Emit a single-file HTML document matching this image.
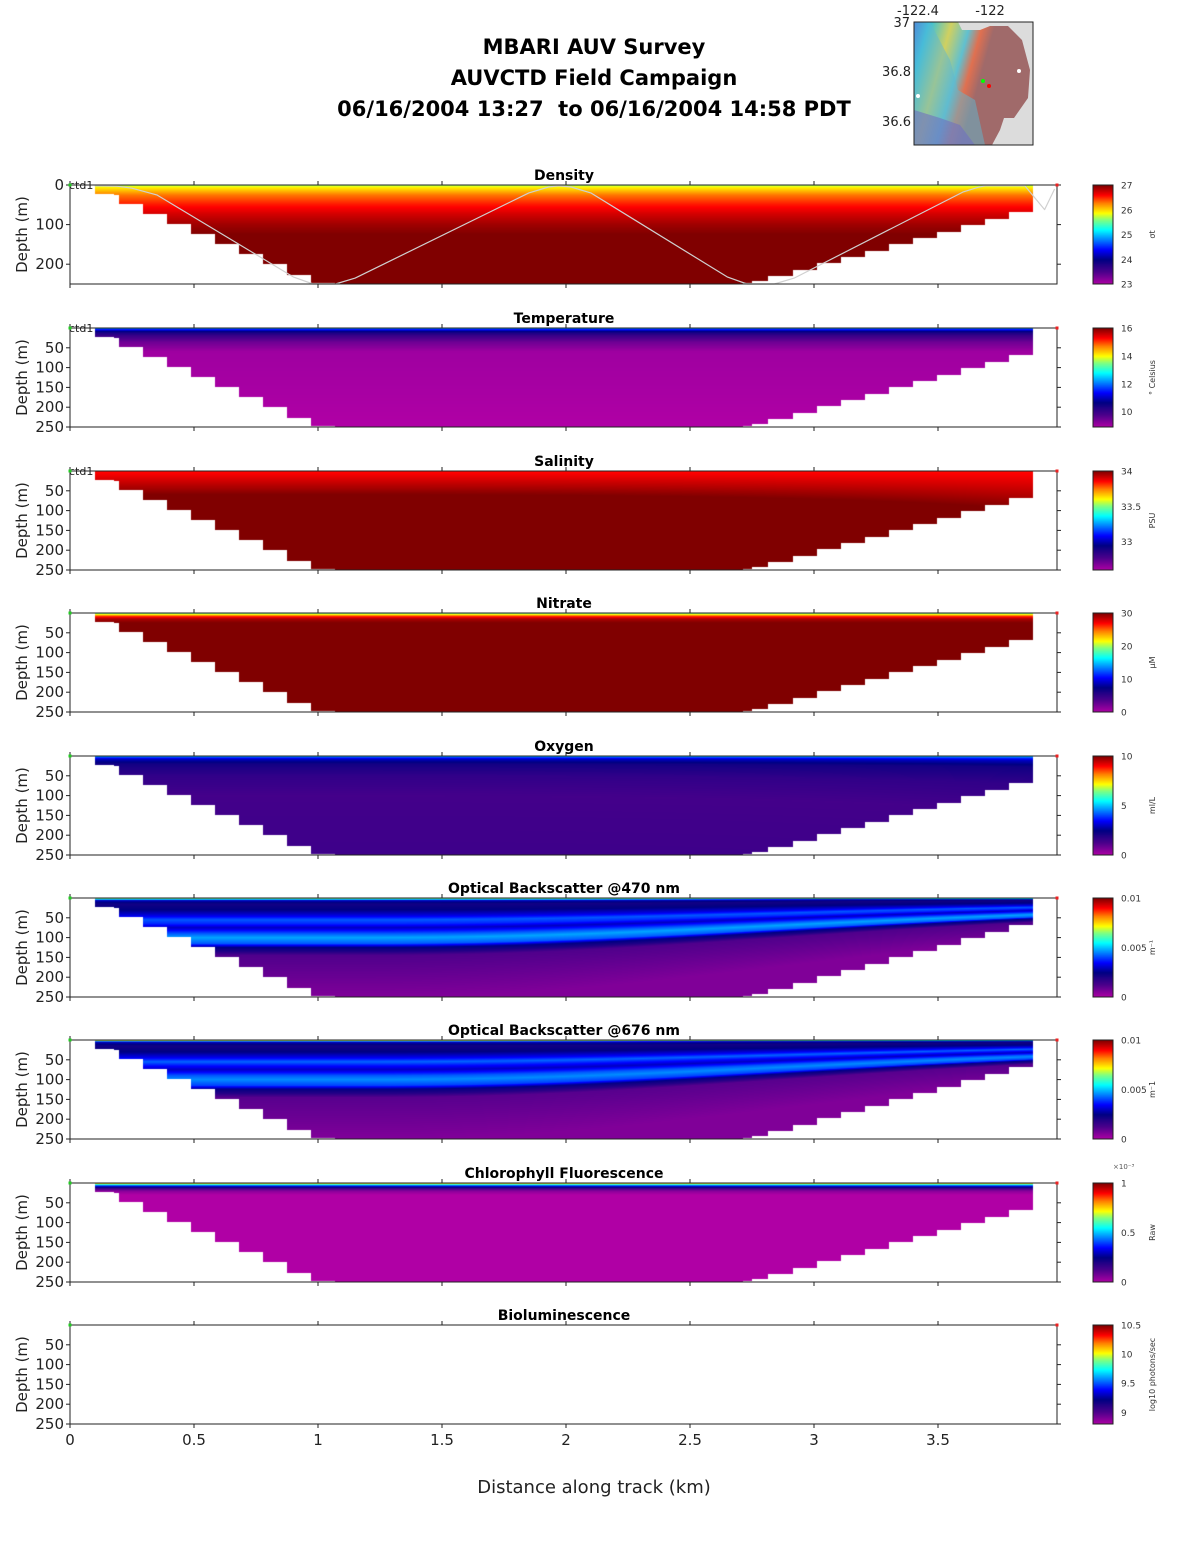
<!DOCTYPE html>
<html><head><meta charset="utf-8">
<style>
body{margin:0;background:#fff;width:1188px;height:1548px;overflow:hidden;font-family:"DejaVu Sans","Liberation Sans",sans-serif;}
#wrap{position:relative;width:1188px;height:1548px;}
canvas,svg{position:absolute;left:0;top:0;}
</style></head>
<body>
<div id="wrap">
<canvas id="cv" width="1188" height="1548"></canvas>
<svg id="sv" width="1188" height="1548" xmlns="http://www.w3.org/2000/svg">
<defs>
<linearGradient id="mapg" x1="0" y1="0" x2="1" y2="0.3">
<stop offset="0" stop-color="#4060e0"/><stop offset="0.12" stop-color="#30c0e0"/><stop offset="0.3" stop-color="#d0d060"/><stop offset="0.45" stop-color="#60c0d0"/><stop offset="0.55" stop-color="#e07050"/><stop offset="0.65" stop-color="#a06a6a"/><stop offset="1" stop-color="#a06a6a"/>
</linearGradient>
</defs>
<g font-weight="bold" font-size="21" text-anchor="middle" fill="#000">
<text x="594" y="54">MBARI AUV Survey</text>
<text x="594" y="85">AUVCTD Field Campaign</text>
<text x="594" y="116">06/16/2004 13:27&#160; to 06/16/2004 14:58 PDT</text>
</g>
<g>
<rect x="914" y="22" width="119" height="123" fill="#dcdcdc"/>
<path d="M914 22 L958 22 L962 30 L980 30 L990 26 L1008 26 L1022 40 L1030 70 L1028 98 L1014 118 L1004 118 L1000 130 L992 145 L914 145 Z" fill="url(#mapg)"/>
<path d="M914 22 L930 22 L950 60 L958 90 L975 100 L985 145 L914 145 Z" fill="#60b8d0" opacity="0.5"/>
<path d="M914 110 L940 118 L960 125 L975 145 L914 145 Z" fill="#7070c0" opacity="0.6"/>
<rect x="914" y="22" width="119" height="123" fill="none" stroke="#222" stroke-width="1"/>
<circle cx="983" cy="81" r="2" fill="#0f0"/><circle cx="989" cy="86" r="2" fill="#f00"/>
<circle cx="1019" cy="71" r="2" fill="#fff"/><circle cx="918" cy="96" r="2" fill="#fff"/>
<g font-size="13" fill="#222">
<text x="918" y="15" text-anchor="middle">-122.4</text><text x="990" y="15" text-anchor="middle">-122</text>
<text x="910" y="27" text-anchor="end">37</text><text x="911" y="76" text-anchor="end">36.8</text><text x="911" y="126" text-anchor="end">36.6</text>
</g>
</g>
<g id="axes"></g>
</svg>
</div>
<script>
// ---- shared data ----
const xTicks=[0,0.5,1,1.5,2,2.5,3,3.5];
const xTickLabels=["0","0.5","1","1.5","2","2.5","3","3.5"];
const stepKm=[0.101,0.177,0.198,0.294,0.391,0.488,0.585,0.681,0.778,0.875,0.972,1.069,2.714,2.75,2.815,2.915,3.012,3.109,3.206,3.302,3.399,3.496,3.593,3.69,3.786,3.883];
const stepDepth=[21,24,47,72,97,123,148,174,199,225,247,250,247,241,229,214,196,181,166,148,133,118,100,85,66];
const trackKm=[0.1,0.19,0.25,0.35,0.9,0.98,1.07,1.15,1.85,1.93,1.97,2.02,2.1,2.65,2.73,2.84,2.92,3.6,3.66,3.69,3.85,3.93,3.97];
const trackDepth=[2,3,8,25,232,250,250,235,20,5,2,5,20,232,250,250,235,18,6,2,2,62,10];
const titles=["Density","Temperature","Salinity","Nitrate","Oxygen","Optical Backscatter @470 nm","Optical Backscatter @676 nm","Chlorophyll Fluorescence","Bioluminescence"];
const cbMin=[23,8.9,32.6,0,0,0,0,0,8.8];
const cbMax=[27,16,34,30,10,0.01,0.01,1,10.5];
const cbTicks=[[23,24,25,26,27],[10,12,14,16],[33,33.5,34],[0,10,20,30],[0,5,10],[0,0.005,0.01],[0,0.005,0.01],[0,0.5,1],[9,9.5,10,10.5]];
const cbLabels=["σt","° Celsius","PSU","μM","ml/L","m⁻¹","m⁻1","Raw","log10 photons/sec"];
const warp=[0,0,-0.4,0,-0.3,1.4,1.4,0,0];
// depth profiles (m) and values (data units)
const profD=[
[0,5,15,25,50,75,100,125,250],
[0,4,10,20,35,60,250],
[0,20,40,60,250],
[0,4,8,15,25,250],
[0,3,8,20,50,100,150,250],
[0,3,6,15,30,45,55,65,75,90,100,115,125,135,145,250],
[0,2,5,15,30,45,55,65,75,90,100,115,125,135,145,250],
[0,2,5,9,14,20,30,250],
[]];
const profV=[
[25.6,25.9,26.1,26.3,26.55,26.75,26.9,27,27],
[12.45,11.4,10.5,10.0,9.5,9.05,8.9],
[33.85,33.9,33.95,34,34],
[18,22,26,29,30,30],
[5.5,4.0,3.0,2.2,1.7,1.4,1.45,1.5],
[0.007,0.0055,0.003,0.0022,0.0025,0.0033,0.0042,0.0038,0.003,0.0042,0.0048,0.0042,0.0025,0.002,0.0012,0.0006],
[0.0085,0.006,0.003,0.0022,0.0025,0.0034,0.0043,0.0036,0.003,0.0042,0.0046,0.004,0.0024,0.0019,0.0011,0.0006],
[0.85,0.7,0.5,0.3,0.15,0.05,0,0],
[]];
const panelTop=[185,328,471,613,756,898,1040,1183,1325];
// ---- geometry ----
const X0=70,X1=1057,PH=99;
const xs=km=>X0+km*248;
const ys=(p,d)=>panelTop[p]+d/250*PH;
const cmS=[0,0.12,0.25,0.35,0.45,0.55,0.65,0.72,0.82,0.9,1];
const cmC=[[176,0,165],[80,0,140],[0,0,130],[0,0,255],[0,128,255],[0,255,255],[128,255,128],[255,255,0],[255,128,0],[255,0,0],[128,0,0]];
function cmap(t){t=Math.max(0,Math.min(1,t));for(let i=1;i<cmS.length;i++){if(t<=cmS[i]){const f=(t-cmS[i-1])/(cmS[i]-cmS[i-1]);const a=cmC[i-1],b=cmC[i];return [a[0]+(b[0]-a[0])*f,a[1]+(b[1]-a[1])*f,a[2]+(b[2]-a[2])*f];}}return cmC[cmC.length-1];}
function interp(D,V,d){if(d<=D[0])return V[0];for(let i=1;i<D.length;i++){if(d<=D[i]){const f=(d-D[i-1])/(D[i]-D[i-1]);return V[i-1]+(V[i]-V[i-1])*f;}}return V[V.length-1];}
function bottomAt(km){if(km<stepKm[0]||km>=stepKm[stepKm.length-1])return -1;for(let i=0;i<stepDepth.length;i++){if(km<stepKm[i+1])return stepDepth[i];}return -1;}
function warpAt(p,km){const t=Math.max(0,Math.min(1,(km-1.2)/2.7));return 1+warp[p]*t*t*(0.6+0.4*t);}
// ---- heatmaps ----
const ctx=document.getElementById('cv').getContext('2d');
const img=ctx.createImageData(1188,1548);
for(let p=0;p<9;p++){
  if(!profD[p].length)continue;
  for(let px=Math.floor(xs(stepKm[0]));px<xs(stepKm[stepKm.length-1]);px++){
    const km=(px+0.5-X0)/248;const bd=bottomAt(km);if(bd<0)continue;
    const w=warpAt(p,km);
    const yb=ys(p,bd);
    for(let py=panelTop[p];py<yb;py++){
      const d=(py+0.5-panelTop[p])/PH*250*w;
      const v=interp(profD[p],profV[p],d);
      const c=cmap((v-cbMin[p])/(cbMax[p]-cbMin[p]));
      const k=(py*1188+px)*4;img.data[k]=c[0];img.data[k+1]=c[1];img.data[k+2]=c[2];img.data[k+3]=255;
    }
  }
}
for(let p=0;p<9;p++){for(let py=panelTop[p];py<panelTop[p]+PH;py++){const c=cmap(1-(py-panelTop[p])/PH);for(let px=1093;px<1113;px++){const k=(py*1188+px)*4;img.data[k]=c[0];img.data[k+1]=c[1];img.data[k+2]=c[2];img.data[k+3]=255;}}}
ctx.putImageData(img,0,0);
// ---- axes ----
const NS="http://www.w3.org/2000/svg";const ax=document.getElementById('axes');
function mk(tag,at,parent,txt){const e=document.createElementNS(NS,tag);for(const k in at)e.setAttribute(k,at[k]);if(txt!==undefined)e.textContent=txt;(parent||ax).appendChild(e);return e;}
const fmt=v=>String(v);
for(let p=0;p<9;p++){
  const g=mk('g',{});
  
  
  const T=panelTop[p],B=T+PH;
  if(p===0){
    const pts=trackKm.map((k,i)=>xs(k).toFixed(1)+','+ys(0,trackDepth[i]).toFixed(1)).join(' ');
    const pl=mk('polyline',{points:pts,fill:'none',stroke:'#d0d0d0','stroke-width':1.2,'stroke-linejoin':'round'},g);
    
    
  }
  const box=mk('rect',{x:X0,y:T,width:X1-X0,height:PH,fill:'none',stroke:'#222','stroke-width':1},g);
  
  
  xTicks.forEach((t,i)=>{const x=xs(t);mk('line',{x1:x,x2:x,y1:T,y2:T-4,stroke:'#222'},g);mk('line',{x1:x,x2:x,y1:B,y2:B+4,stroke:'#222'},g);
    if(p===8){const tl=mk('text',{x:x,y:B+21,'font-size':15,'text-anchor':'middle',fill:'#222'},g,xTickLabels[i]);}});
  const yt=p===0?[0,100,200]:[50,100,150,200,250];
  yt.forEach(d=>{const y=ys(p,d);mk('line',{x1:X0,x2:X0-4,y1:y,y2:y,stroke:'#222'},g);mk('line',{x1:X1,x2:X1+4,y1:y,y2:y,stroke:'#222'},g);
    const tl=mk('text',{x:X0-6,y:y+5,'font-size':15,'text-anchor':'end',fill:'#222'},g,fmt(d));});
  const yl=mk('text',{x:0,y:0,'font-size':15,'text-anchor':'middle',fill:'#222',transform:`translate(27,${T+PH/2}) rotate(-90)`},g,'Depth (m)');
  
  const ti=mk('text',{x:564,y:T-5,'font-size':14,'font-weight':'bold','text-anchor':'middle',fill:'#000'},g,titles[p]);
  
  if(p<3){const c=mk('text',{x:69,y:T+4,'font-size':11,fill:'#222'},g,'ctd1');}
  const gd=mk('rect',{x:X0-1.5,y:T-1.5,width:3,height:3,fill:'#2c2'},g);
  const rd=mk('rect',{x:X1-1.5,y:T-1.5,width:3,height:3,fill:'#e22'},g);
  const cb=mk('g',{},g);
  mk('rect',{x:1093,y:T,width:20,height:PH,fill:'none',stroke:'#222'},cb);
  cbTicks[p].forEach(v=>{const y=B-(v-cbMin[p])/(cbMax[p]-cbMin[p])*PH;mk('text',{x:1121,y:y+3.5,'font-size':9,fill:'#333'},cb,fmt(v));});
  if(p===7)mk('text',{x:1113,y:T-14,'font-size':7,fill:'#555'},cb,'×10⁻³');
  const cl=mk('text',{x:0,y:0,'font-size':8,'text-anchor':'middle',fill:'#333',transform:`translate(1155,${T+PH/2}) rotate(-90)`},cb,cbLabels[p]);
  
}
const xl=mk('text',{x:594,y:1493,'font-size':18,'text-anchor':'middle',fill:'#222'},ax,'Distance along track (km)');


</script>
</body></html>
